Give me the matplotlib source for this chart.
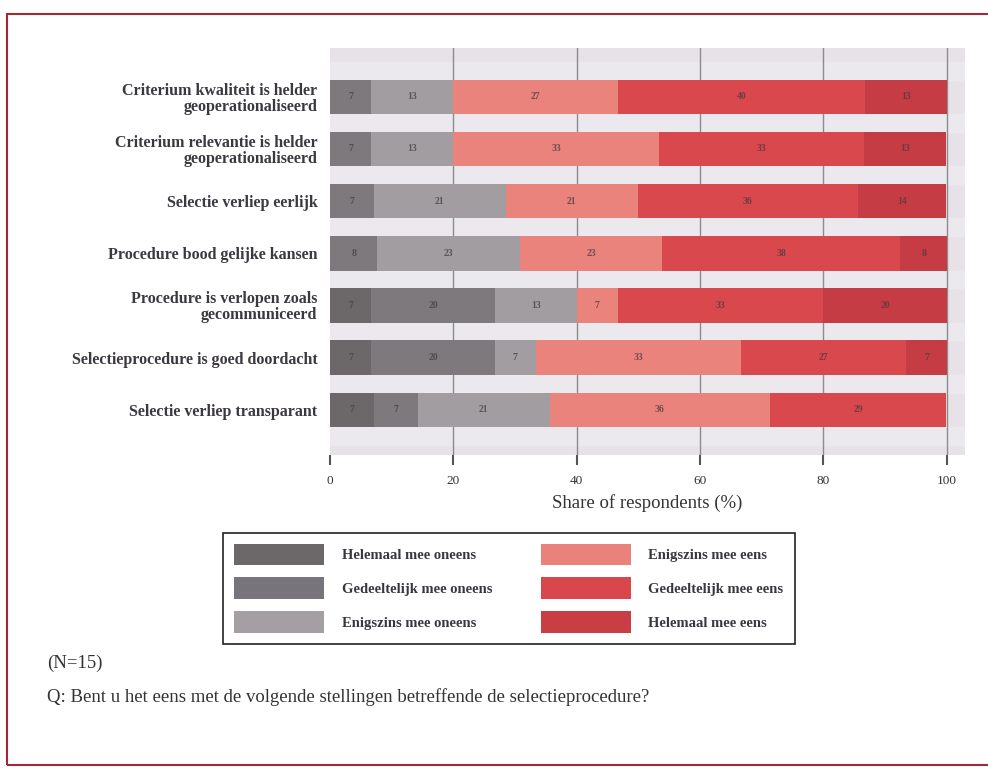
import numpy as np
import matplotlib.pyplot as plt
from matplotlib.patches import Patch, Rectangle

# statements (top to bottom)
statements = [
    'Criterium kwaliteit is helder\ngeoperationaliseerd',
    'Criterium relevantie is helder\ngeoperationaliseerd',
    'Selectie verliep eerlijk',
    'Procedure bood gelijke kansen',
    'Procedure is verlopen zoals\ngecommuniceerd',
    'Selectieprocedure is goed doordacht',
    'Selectie verliep transparant',
]
categories = ['Helemaal mee oneens', 'Gedeeltelijk mee oneens', 'Enigszins mee oneens',
              'Enigszins mee eens', 'Gedeeltelijk mee eens', 'Helemaal mee eens']

# share of respondents (%), one list per answer category, per statement
helemaal_oneens = [0, 0, 0, 0, 6.7, 6.7, 7.1]
gedeeltelijk_oneens = [6.7, 6.7, 7.1, 7.7, 20.0, 20.0, 7.1]
enigszins_oneens = [13.3, 13.3, 21.4, 23.1, 13.3, 6.7, 21.4]
enigszins_eens = [26.7, 33.3, 21.4, 23.1, 6.7, 33.3, 35.7]
gedeeltelijk_eens = [40.0, 33.3, 35.7, 38.5, 33.3, 26.7, 28.6]
helemaal_eens = [13.3, 13.3, 14.3, 7.7, 20.0, 6.7, 0]
series = [helemaal_oneens, gedeeltelijk_oneens, enigszins_oneens,
          enigszins_eens, gedeeltelijk_eens, helemaal_eens]
colors = ['#6c6769', '#7d797d', '#a29da0', '#e9837c', '#d8484c', '#c63c44']
legend_colors = ['#6c6769', '#77747c', '#a49fa3', '#ea827b', '#d9474c', '#c93d45']

serif = 'Liberation Serif'
plt.rcParams['font.family'] = serif

fig = plt.figure(figsize=(9.88, 7.69), dpi=100)
fig.patch.set_facecolor('white')
ax = fig.add_axes([0.334, 0.408, 0.643, 0.530])
ax.set_facecolor('#e6e2e8')

y = np.arange(len(statements))
left = np.zeros(len(statements))
for vals, c in zip(series, colors):
    vals = np.array(vals)
    ax.barh(y, vals, left=left, height=0.66, color=c, zorder=3)
    for yi, l, v in zip(y, left, vals):
        if v > 0:
            ax.text(l + v / 2, yi, '%d' % round(v), ha='center', va='center',
                    fontsize=7, fontweight='bold', color='#4a3a3e', alpha=0.75, zorder=4)
    left += vals

# lighter bands between bars
for yi in np.arange(-0.5, len(statements), 1):
    ax.axhspan(yi - 0.17, yi + 0.17, color='#ebe9ee', zorder=1)

ax.set_xlim(0, 103)
ax.set_ylim(6.87, -0.94)
ax.set_xticks([0, 20, 40, 60, 80, 100])
ax.set_xticklabels(['0', '20', '40', '60', '80', '100'], fontsize=9.5, color='#333333')
for gx in [20, 40, 60, 80, 100]:
    ax.axvline(gx, color='#8c8c8c', lw=1, zorder=2)
ax.set_yticks(y)
ax.set_yticklabels(statements, fontsize=11.5, fontweight='bold', color='#3c3840',
                   linespacing=1.0)
ax.tick_params(axis='y', length=0, pad=9)
ax.tick_params(axis='x', length=7, width=1.5, color='#555555', pad=7)
for s in ax.spines.values():
    s.set_visible(False)
ax.set_xlabel('Share of respondents (%)', fontsize=13.5, color='#333333', labelpad=5)

handles = [Patch(facecolor=c, edgecolor='none', label=lab)
           for c, lab in zip(legend_colors, categories)]
leg = fig.legend(handles=handles, ncol=2, loc='center', bbox_to_anchor=(0.515, 0.235),
                 handlelength=6.2, handleheight=1.9, handletextpad=1.2,
                 columnspacing=3.3, labelspacing=0.85, borderpad=0.75,
                 fancybox=False, edgecolor='#222222', framealpha=1,
                 prop={'family': serif, 'weight': 'bold', 'size': 10.5})
leg.get_frame().set_linewidth(1.2)
for t in leg.get_texts():
    t.set_color('#3a3640')

fig.text(0.048, 1 - 663 / 769, '(N=15)', fontsize=13.5, color='#333333', va='center')
fig.text(0.048, 1 - 697 / 769,
         'Q: Bent u het eens met de volgende stellingen betreffende de selectieprocedure?',
         fontsize=13.5, color='#333333', va='center')

# page border
fig.patches.append(Rectangle((7 / 988, 1 - 765 / 769), 0.995, (765 - 14) / 769,
                             transform=fig.transFigure, fill=False,
                             edgecolor='#9e2a35', lw=1.5))

fig.savefig('out.png', dpi=100)
